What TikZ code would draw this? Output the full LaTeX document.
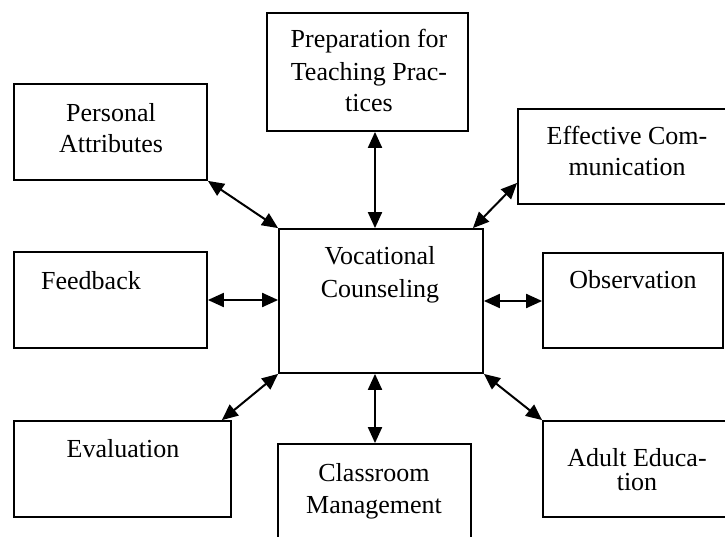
\documentclass[tikz,border=0pt]{standalone}
\usepackage{fontspec}
\setmainfont{Liberation Serif}
\usetikzlibrary{arrows.meta}
\tikzset{
  box/.style={draw, line width=1.8pt, inner sep=0pt, rectangle},
  txt/.style={anchor=base, inner sep=0pt, font=\fontsize{26}{30}\selectfont},
  link/.style={line width=2pt, {Triangle[length=16pt,width=14pt]}-{Triangle[length=16pt,width=14pt]}}
}
\begin{document}
\begin{tikzpicture}[x=1pt,y=-1pt]
\clip (0,0) rectangle (725,537);
\fill[white] (0,0) rectangle (725,537);
% boxes
\node[box, minimum width=201pt, minimum height=118pt] (prep) at (367.5,72) {};
\node[box, minimum width=193pt, minimum height=96pt] (pers) at (110.5,132) {};
\node[box, minimum width=212pt, minimum height=95pt] (eff) at (624,156.5) {};
\node[box, minimum width=204pt, minimum height=144pt] (cen) at (381,301) {};
\node[box, minimum width=193pt, minimum height=96pt] (feed) at (110.5,300) {};
\node[box, minimum width=180pt, minimum height=95pt] (obs) at (633,300.5) {};
\node[box, minimum width=217pt, minimum height=96pt] (eval) at (122.5,469) {};
\node[box, minimum width=193pt, minimum height=120pt] (cls) at (374.5,504) {};
\node[box, minimum width=190pt, minimum height=96pt] (adult) at (638,469) {};
% texts
\node[txt] (prepA) at (369,48) {Preparation for};
\node[txt] (prepB) at (369,81) {Teaching Prac-};
\node[txt] (prepC) at (369,112) {tices};
\node[txt] (persA) at (111,122) {Personal};
\node[txt] (persB) at (111,153) {Attributes};
\node[txt] (effA) at (627,145) {Effective Com-};
\node[txt] (effB) at (627,176) {munication};
\node[txt] (cenA) at (380,265) {Vocational};
\node[txt] (cenB) at (380,297) {Counseling};
\node[txt] (feedA) at (91,289) {Feedback};
\node[txt] (obsA) at (633,288) {Observation};
\node[txt] (evalA) at (123,457) {Evaluation};
\node[txt] (clsA) at (374,481) {Classroom};
\node[txt] (clsB) at (374,513) {Management};
\node[txt] (adultA) at (637,466) {Adult Educa-};
\node[txt] (adultB) at (637,490) {tion};
% connectors
\draw[link] (pers.south east) -- (cen.north west);
\draw[link] ([xshift=7.5pt]prep.south) -- ([xshift=7.5pt]prep.south |- cen.north);
\draw[link] ([xshift=-11pt]cen.north east) -- ([yshift=22pt]eff.south west);
\draw[link] (feed.east) -- (feed.east -| cen.west);
\draw[link] (cen.east) -- (cen.east -| obs.west);
\draw[link] ([xshift=-10pt]eval.north east) -- (cen.south west);
\draw[link] ([xshift=0.5pt]cls.north) -- ([xshift=0.5pt]cls.north |- cen.south);
\draw[link] (cen.south east) -- (adult.north west);
\end{tikzpicture}
\end{document}
